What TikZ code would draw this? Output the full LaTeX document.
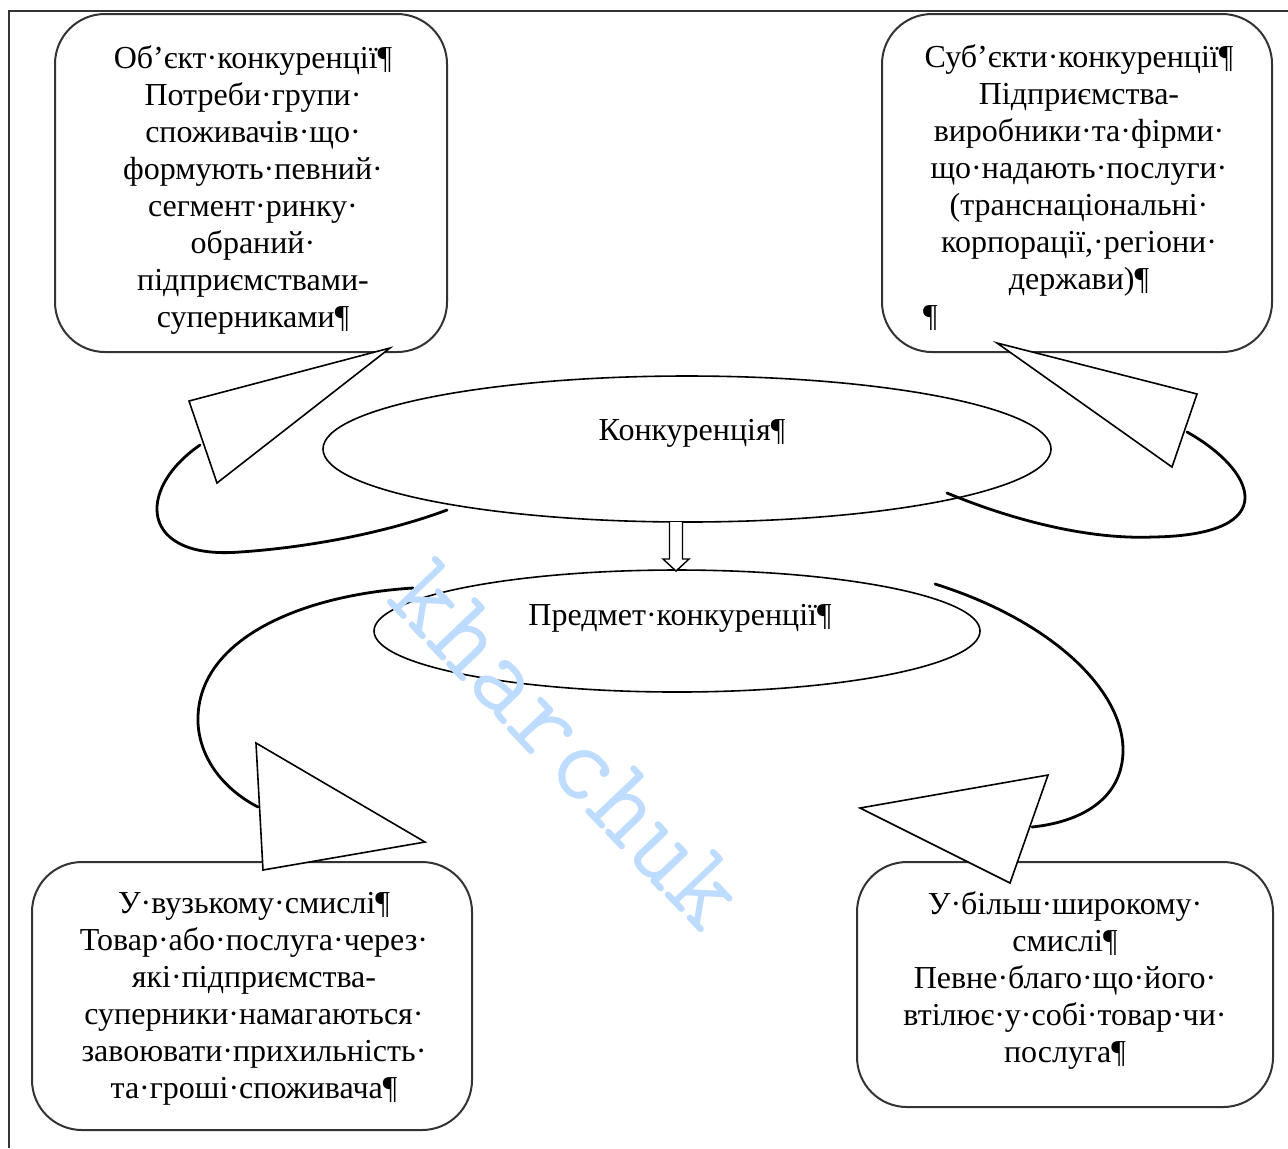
\documentclass[tikz,border=0pt]{standalone}
\usepackage{fontspec}
\setmainfont{Liberation Serif}
\usetikzlibrary{shapes.geometric,calc}
\newcommand{\dtxt}{\fontsize{16pt}{18.5pt}\selectfont}
\definecolor{wm}{RGB}{190,220,255}
\begin{document}
\begin{tikzpicture}[x=0.5pt,y=-0.5pt,
  framelines/.style={draw=black!80, line width=1pt},
  bubble/.style={draw=black!80, line width=1pt, rounded corners=25pt, fill=white,
     inner sep=0pt, outer sep=0pt},
  oval/.style={ellipse, draw=black, line width=0.8pt, fill=white, inner sep=0pt},
  wedgeshape/.style={draw=black, line width=0.8pt, fill=white, line join=miter},
  curvy/.style={draw=black, line width=1.4pt, line cap=round},
  hollowarrow/.style={draw=black, line width=0.7pt, fill=white},
  lbl/.style={font=\dtxt, inner sep=0pt, align=center},
]
\useasboundingbox (0,0) rectangle (1288,1148);
\fill[white] (0,0) rectangle (1288,1148);

% frame (top and left edges)
\coordinate (fr1) at (1288,11);
\coordinate (fr2) at (9,11);
\coordinate (fr3) at (9,1148);
\draw[framelines] (fr1) -- (fr2) -- (fr3);

% boxes
\node[bubble, minimum width=196pt, minimum height=169pt] (obj) at (251,183) {};
\node[bubble, minimum width=195pt, minimum height=169pt] (subj) at (1077,183) {};
\node[bubble, minimum width=220pt, minimum height=134pt] (narrow) at (252,996) {};
\node[bubble, minimum width=208pt, minimum height=122.5pt] (wide) at (1065,984.5) {};

\node[lbl] (objt) at (253,190)
 {Об’єкт·конкуренції¶\\Потреби·групи·\\споживачів·що·\\формують·певний·\\сегмент·ринку·\\обраний·\\підприємствами-\\суперниками¶};
\node[lbl] (subjt) at (1079,188)
 {Суб’єкти·конкуренції¶\\Підприємства-\\виробники·та·фірми·\\що·надають·послуги·\\(транснаціональні·\\корпорації,·регіони·\\держави)¶\\\makebox[156pt][l]{¶}};
\node[lbl] (narrowt) at (254,999)
 {У·вузькому·смислі¶\\Товар·або·послуга·через·\\які·підприємства-\\суперники·намагаються·\\завоювати·прихильність·\\та·гроші·споживача¶};
\node[lbl] (widet) at (1065,980)
 {У·більш·широкому·\\смислі¶\\Певне·благо·що·його·\\втілює·у·собі·товар·чи·\\послуга¶};

% ellipses
\node[oval, minimum width=364pt, minimum height=73pt] (konk) at (687,449) {};
\node[oval, minimum width=303pt, minimum height=61pt] (pred) at (677,631) {};
\node[lbl, anchor=base] (konkt) at (692,440) {Конкуренція¶};
\node[lbl, anchor=base] (predt) at (680,625) {Предмет·конкуренції¶};

% curved connectors
\coordinate (a1s) at (200,445); \coordinate (a1e) at (447,510);
\draw[curvy] (a1s) .. controls (135,490) and (140,560) .. (240,552)
   .. controls (300,548) and (380,535) .. (a1e);
\coordinate (a2s) at (1187,432); \coordinate (a2e) at (947,493);
\draw[curvy] (a2s) .. controls (1255,470) and (1285,535) .. (1153,537)
   .. controls (1080,540) and (1000,515) .. (a2e);
\coordinate (a3s) at (413,588); \coordinate (a3e) at (258,807);
\draw[curvy] (a3s) .. controls (300,595) and (195,640) .. (198,723)
   .. controls (200,760) and (225,790) .. (a3e);
\coordinate (a4s) at (935,584); \coordinate (a4e) at (1032,827);
\draw[curvy] (a4s) .. controls (1050,620) and (1125,690) .. (1123,753)
   .. controls (1121,800) and (1080,822) .. (a4e);

% wedge arrowheads
\coordinate (t1a) at (390,348); \coordinate (t1b) at (189,401); \coordinate (t1c) at (217,483);
\draw[wedgeshape] (t1a) -- (t1b) -- (t1c) -- cycle;
\coordinate (t2a) at (997,343); \coordinate (t2b) at (1197,394); \coordinate (t2c) at (1172,467);
\draw[wedgeshape] (t2a) -- (t2b) -- (t2c) -- cycle;
\coordinate (t3a) at (425,842); \coordinate (t3b) at (256,743); \coordinate (t3c) at (263,870);
\draw[wedgeshape] (t3a) -- (t3b) -- (t3c) -- cycle;
\coordinate (t4a) at (860,808); \coordinate (t4b) at (1048,775); \coordinate (t4c) at (1010,883);
\draw[wedgeshape] (t4a) -- (t4b) -- (t4c) -- cycle;

% hollow down arrow between ellipses
\coordinate (dA) at (676,522);
\coordinate (dB) at (676,571);
\draw[hollowarrow] ($(dA)+(-6.5,0)$) -- ($(dB)+(-6.5,-12)$) -- ($(dB)+(-13,-12)$) -- (dB)
  -- ($(dB)+(13,-12)$) -- ($(dB)+(6.5,-12)$) -- ($(dA)+(6.5,0)$);

% watermark
\node[font=\ttfamily\fontsize{56pt}{56pt}\selectfont, text=wm, rotate=-46.5, inner sep=0pt] (wmk) at (568,745) {kharchuk};
\end{tikzpicture}
\end{document}
